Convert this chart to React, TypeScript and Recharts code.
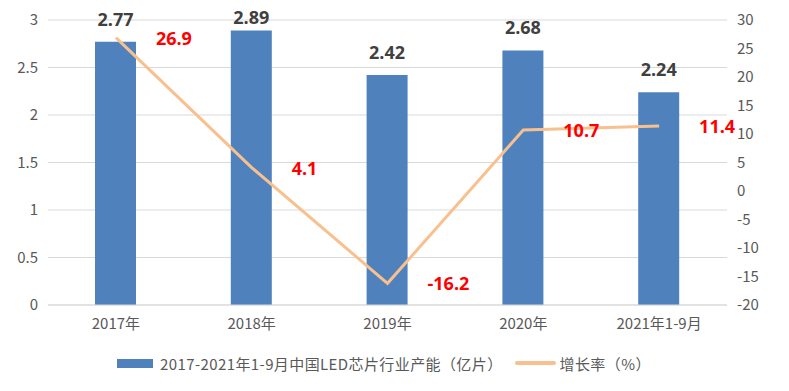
import { Bar, CartesianGrid, ComposedChart, LabelList, Legend, Line, XAxis, YAxis } from "recharts";

const categories = ["2017年", "2018年", "2019年", "2020年", "2021年1-9月"];
const capacity = [2.77, 2.89, 2.42, 2.68, 2.24];
const growth = [26.9, 4.1, -16.2, 10.7, 11.4];
const leftTicks = [0, 0.5, 1, 1.5, 2, 2.5, 3];
const rightTicks = [-20, -15, -10, -5, 0, 5, 10, 15, 20, 25, 30];
const barName = "2017-2021年1-9月中国LED芯片行业产能（亿片）";
const lineName = "增长率（%）";

const data = categories.map((name, i) => ({ name, capacity: capacity[i], growth: growth[i] }));

const BLUE = "#4f81bd";
const ORANGE = "#f9c08f";
const TICK = "#595959";
const GRID = "#d9d9d9";
const FONT = "'Noto Sans CJK SC', 'Noto Sans', sans-serif";

// value labels sit ~23px above the bar top, pushed down if they'd leave the chart
const BarLabel = (p: any) => {
  const cx = p.x + p.width / 2;
  const cy = Math.max(p.y - 23, 17);
  return (
    <text x={cx} y={cy} textAnchor="middle" dominantBaseline="central" fill="#404040"
      style={{ fontSize: 18, fontWeight: 700, fontFamily: "'Open Sans', sans-serif" }}>
      {p.value}
    </text>
  );
};

const GrowthLabel = (p: any) => (
  <text x={p.x + 40} y={p.y} textAnchor="start" dominantBaseline="central" fill="#ff0000"
    style={{ fontSize: 18, fontWeight: 700, fontFamily: "'Open Sans', sans-serif" }}>
    {p.value}
  </text>
);

const LegendContent = () => (
  <div style={{ display: "flex", alignItems: "center", height: 20, paddingLeft: 117, fontFamily: FONT, fontSize: 15, letterSpacing: 0.4, color: TICK }}>
    <span style={{ display: "inline-block", width: 36, height: 9, background: BLUE, marginRight: 7 }} />
    <span>{barName}</span>
    <span style={{ display: "inline-block", width: 41, height: 4, borderRadius: 2, background: ORANGE, marginLeft: 12, marginRight: 4 }} />
    <span>{lineName}</span>
  </div>
);

const tickStyle = { fill: TICK, fontSize: 15, fontFamily: FONT };

export default function App() {
  return (
    <div style={{ position: "absolute", left: 0, top: 0, width: 789, height: 391, background: "#fff" }}>
      <ComposedChart width={789} height={391} data={data} margin={{ top: 20, right: 10, bottom: 36, left: 0 }}>
        <CartesianGrid yAxisId="left" stroke={GRID} vertical={false} />
        <XAxis dataKey="name" axisLine={{ stroke: GRID }} tickLine={false} tickMargin={7} height={30} tick={tickStyle} />
        <YAxis yAxisId="left" domain={[0, 3]} ticks={leftTicks} width={48} axisLine={false} tickLine={false}
          tick={tickStyle} tickMargin={4} />
        <YAxis yAxisId="right" orientation="right" domain={[-20, 30]} ticks={rightTicks} width={52} axisLine={false}
          tickLine={false} tick={tickStyle} tickMargin={4} />
        <Bar yAxisId="left" dataKey="capacity" name={barName} fill={BLUE} barSize={41} isAnimationActive={false}>
          <LabelList dataKey="capacity" content={BarLabel} />
        </Bar>
        <Line yAxisId="right" dataKey="growth" name={lineName} type="linear" stroke={ORANGE} strokeWidth={3}
          dot={false} activeDot={false} isAnimationActive={false}>
          <LabelList dataKey="growth" content={GrowthLabel} />
        </Line>
        <Legend verticalAlign="bottom" content={LegendContent} wrapperStyle={{ bottom: 18, left: 0, width: 789 }} />
      </ComposedChart>
    </div>
  );
}
